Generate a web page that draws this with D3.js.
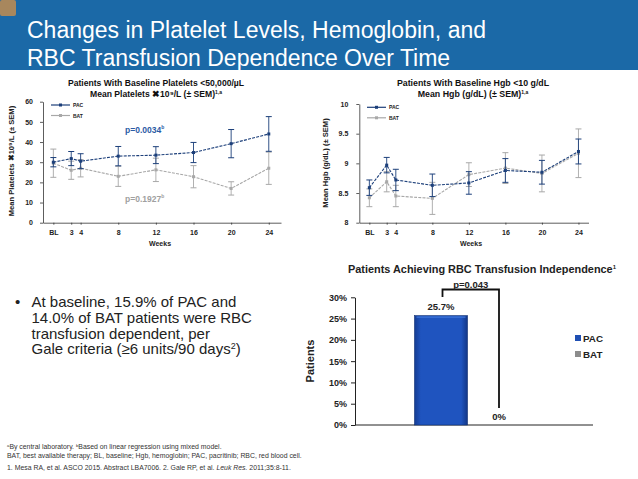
<!DOCTYPE html>
<html>
<head>
<meta charset="utf-8">
<script src="https://cdn.jsdelivr.net/npm/d3@7"></script>
<style>
  html, body { margin: 0; padding: 0; background: #fff; }
  svg { display: block; font-family: "Liberation Sans", Arial, sans-serif; }
</style>
</head>
<body>
<div id="vis"></div>
<script>
// ---- data ----
var weekLabels = ["BL", "3", "4", "8", "12", "16", "20", "24"];
var weekPos = [1.1, 3, 4, 8, 12, 16, 20, 24];

var pltPac = [30, 31.8, 30.5, 33, 33.5, 34.8, 39.2, 44];
var pltPacSem = [2.3, 3.5, 3.7, 4.8, 4.2, 5, 7, 8.6];
var pltBat = [29.5, 26, 27, 23, 26.2, 22.8, 17, 27];
var pltBatSem = [7, 4.5, 4.3, 5, 5.8, 5.5, 3.3, 8];
var pltTicks = [0, 10, 20, 30, 40, 50, 60];

var hgbPac = [8.59, 8.97, 8.72, 8.63, 8.67, 8.88, 8.85, 9.2];
var hgbPacSem = [0.13, 0.13, 0.18, 0.19, 0.19, 0.2, 0.2, 0.21];
var hgbBat = [8.42, 8.69, 8.45, 8.41, 8.81, 8.92, 8.83, 9.17];
var hgbBatSem = [0.15, 0.17, 0.18, 0.27, 0.2, 0.26, 0.31, 0.41];
var hgbTicks = [8, 8.5, 9, 9.5, 10];

var rbcGroups = ["PAC", "BAT"];
var rbcValues = [0.257, 0];
var rbcTicks = [0, 0.05, 0.1, 0.15, 0.2, 0.25, 0.3];

var PAC_COL = "#1c3f7a";
var BAT_COL = "#a8a8a8";

var svg = d3.select("#vis").append("svg")
    .attr("width", 638)
    .attr("height", 479);

var defs = svg.append("defs");
var grad = defs.append("linearGradient").attr("id", "barGrad")
    .attr("x1", "0%").attr("x2", "100%").attr("y1", "0%").attr("y2", "0%");
grad.append("stop").attr("offset", "0%").attr("stop-color", "#143c93");
grad.append("stop").attr("offset", "12%").attr("stop-color", "#1f54bf");
grad.append("stop").attr("offset", "88%").attr("stop-color", "#1f54bf");
grad.append("stop").attr("offset", "100%").attr("stop-color", "#123686");

// header band
svg.append("rect").attr("x", 0).attr("y", 0).attr("width", 638).attr("height", 70).attr("fill", "#1b69a7");
svg.append("rect").attr("x", 0).attr("y", 0).attr("width", 16).attr("height", 16).attr("rx", 2).attr("fill", "#a8875d");

var head = svg.append("text").attr("fill", "#fff").attr("font-size", "23px");
head.append("tspan").attr("x", 27).attr("y", 38).text("Changes in Platelet Levels, Hemoglobin, and");
head.append("tspan").attr("x", 27).attr("y", 66).text("RBC Transfusion Dependence Over Time");

// line chart with error bars
function lineChart(cfg) {
    var g = svg.append("g");
    var x = d3.scaleLinear().domain(cfg.xDomain).range(cfg.xRange);
    var y = d3.scaleLinear().domain(cfg.yDomain).range(cfg.yRange);

    var yAxis = g.append("g")
        .attr("transform", "translate(" + cfg.xRange[0] + ",0)")
        .call(d3.axisLeft(y).tickValues(cfg.yTicks).tickSize(3).tickSizeOuter(0).tickPadding(cfg.yPad)
            .tickFormat(function (d) { return d3.format("~g")(d); }));
    yAxis.selectAll("text").attr("font-size", "7px").attr("font-weight", "bold").attr("fill", "#222");

    var xAxis = g.append("g")
        .attr("transform", "translate(0," + cfg.yRange[0] + ")")
        .call(d3.axisBottom(x).tickValues(weekPos).tickSize(2).tickSizeOuter(0).tickPadding(5)
            .tickFormat(function (d, i) { return weekLabels[i]; }));
    xAxis.selectAll("text").attr("font-size", "7px").attr("font-weight", "bold").attr("fill", "#222");

    g.selectAll(".domain, .tick line").attr("stroke", "#333").attr("stroke-width", 0.8);

    // series, BAT underneath
    var series = [
        { vals: cfg.bat, sem: cfg.batSem, col: BAT_COL },
        { vals: cfg.pac, sem: cfg.pacSem, col: PAC_COL }
    ];
    series.forEach(function (s) {
        var pts = weekPos.map(function (w, i) { return [w, s.vals[i], s.sem[i]]; });
        var eb = g.append("g");
        pts.forEach(function (p) {
            var cx = x(p[0]);
            eb.append("line").attr("x1", cx).attr("x2", cx)
                .attr("y1", y(p[1] - p[2])).attr("y2", y(p[1] + p[2]))
                .attr("stroke", s.col).attr("stroke-width", 0.9);
            [p[1] - p[2], p[1] + p[2]].forEach(function (v) {
                eb.append("line").attr("x1", cx - 3).attr("x2", cx + 3)
                    .attr("y1", y(v)).attr("y2", y(v))
                    .attr("stroke", s.col).attr("stroke-width", 1);
            });
        });
        g.append("path")
            .datum(pts)
            .attr("fill", "none")
            .attr("stroke", s.col)
            .attr("stroke-width", 1.1)
            .attr("stroke-dasharray", "3,1.2")
            .attr("d", d3.line().x(function (d) { return x(d[0]); }).y(function (d) { return y(d[1]); }));
        g.selectAll(null).data(pts).enter().append("rect")
            .attr("x", function (d) { return x(d[0]) - 1.5; })
            .attr("y", function (d) { return y(d[1]) - 1.5; })
            .attr("width", 3).attr("height", 3)
            .attr("fill", s.col);
    });

    // legend
    [["PAC", PAC_COL], ["BAT", BAT_COL]].forEach(function (l, i) {
        var ly = cfg.legY + i * 10.5;
        g.append("line").attr("x1", cfg.legX).attr("x2", cfg.legX + 19)
            .attr("y1", ly).attr("y2", ly).attr("stroke", l[1]).attr("stroke-width", 1.2);
        g.append("rect").attr("x", cfg.legX + 8).attr("y", ly - 1.5).attr("width", 3).attr("height", 3).attr("fill", l[1]);
        g.append("text").attr("x", cfg.legX + 22).attr("y", ly + 2)
            .attr("font-size", "5px").attr("font-weight", "bold").attr("fill", "#222").text(l[0]);
    });

    // titles
    var cx = cfg.titleX;
    g.append("text").attr("x", cx).attr("y", 86).attr("text-anchor", "middle")
        .attr("font-size", cfg.titleSize).attr("font-weight", "bold").attr("fill", "#111").text(cfg.title1);
    var t2 = g.append("text").attr("x", cx).attr("y", 96.5).attr("text-anchor", "middle")
        .attr("font-size", cfg.titleSize).attr("font-weight", "bold").attr("fill", "#111");
    t2.append("tspan").text(cfg.title2);
    t2.append("tspan").attr("font-size", "5px").attr("dy", -3).text("1,a");

    g.append("text").attr("x", cfg.weeksX).attr("y", 246).attr("text-anchor", "middle")
        .attr("font-size", "7px").attr("font-weight", "bold").attr("fill", "#222").text("Weeks");

    g.append("text")
        .attr("transform", "translate(" + cfg.yLabX + "," + cfg.yLabY + ") rotate(-90)")
        .attr("text-anchor", "middle")
        .attr("font-size", "7.6px").attr("font-weight", "bold").attr("fill", "#222")
        .text(cfg.yLabel);

    return { x: x, y: y, g: g };
}

var c1 = lineChart({
    xDomain: [0, 25.3], xRange: [43, 281],
    yDomain: [0, 60], yRange: [222.7, 101.7], yTicks: pltTicks, yPad: 7,
    pac: pltPac, pacSem: pltPacSem, bat: pltBat, batSem: pltBatSem,
    legX: 51, legY: 105,
    titleX: 156, titleSize: "8.6px", title1: "Patients With Baseline Platelets <50,000/µL",
    title2: "Mean Platelets \u271610\u2079/L (\u00b1 SEM)",
    weeksX: 160, yLabX: 14, yLabY: 161,
    yLabel: "Mean Platelets \u271610\u2079/L (\u00b1 SEM)"
});

var p1 = c1.g.append("text").attr("x", 125).attr("y", 132.5)
    .attr("font-size", "8.5px").attr("font-weight", "bold").attr("fill", "#2b5ba5");
p1.append("tspan").text("p=0.0034");
p1.append("tspan").attr("font-size", "5px").attr("dy", -3.5).text("b");
var p2 = c1.g.append("text").attr("x", 125).attr("y", 201.5)
    .attr("font-size", "8.5px").attr("font-weight", "bold").attr("fill", "#a0a0a0");
p2.append("tspan").text("p=0.1927");
p2.append("tspan").attr("font-size", "5px").attr("dy", -3.5).text("b");

lineChart({
    xDomain: [0, 25.1], xRange: [359.3, 588.5],
    yDomain: [8, 10], yRange: [222.7, 104], yTicks: hgbTicks, yPad: 8,
    pac: hgbPac, pacSem: hgbPacSem, bat: hgbBat, batSem: hgbBatSem,
    legX: 367, legY: 107.3,
    titleX: 473, titleSize: "8.8px", title1: "Patients With Baseline Hgb <10 g/dL",
    title2: "Mean Hgb (g/dL) (\u00b1 SEM)",
    weeksX: 471, yLabX: 328, yLabY: 163,
    yLabel: "Mean Hgb (g/dL) (\u00b1 SEM)"
});

// ---- RBC transfusion independence bar chart ----
var bx = d3.scaleBand().domain(rbcGroups).range([412, 528]).paddingInner(0.086).paddingOuter(0.043);
var by = d3.scaleLinear().domain([0, 0.3]).range([425, 297.3]);
var bg = svg.append("g");

var byAxis = bg.append("g").attr("transform", "translate(355,0)")
    .call(d3.axisLeft(by).tickValues(rbcTicks).tickSize(4).tickSizeOuter(0).tickPadding(4).tickFormat(d3.format(".0%")));
byAxis.selectAll("text").attr("font-size", "9px").attr("font-weight", "bold").attr("fill", "#222");
bg.append("line").attr("x1", 355).attr("x2", 593).attr("y1", 425).attr("y2", 425).attr("stroke", "#222").attr("stroke-width", 1);
bg.selectAll(".domain, .tick line").attr("stroke", "#222");

bg.selectAll(null).data(rbcGroups).enter().append("rect")
    .attr("x", function (d) { return bx(d); })
    .attr("y", function (d, i) { return by(rbcValues[i]); })
    .attr("width", bx.bandwidth())
    .attr("height", function (d, i) { return by(0) - by(rbcValues[i]); })
    .attr("fill", function (d, i) { return i === 0 ? "url(#barGrad)" : "#8c8c8c"; })
    .attr("stroke", "#0f2f72").attr("stroke-width", 0.6);
bg.append("line")
    .attr("x1", bx("PAC") + 2).attr("x2", bx("PAC") + bx.bandwidth() - 2)
    .attr("y1", by(rbcValues[0]) + 1.5).attr("y2", by(rbcValues[0]) + 1.5)
    .attr("stroke", "#3f74d8").attr("stroke-width", 1.2);

bg.selectAll(null).data(rbcGroups).enter().append("text")
    .attr("x", function (d) { return bx(d) + bx.bandwidth() / 2; })
    .attr("y", function (d, i) { return i === 0 ? by(rbcValues[i]) - 6 : by(rbcValues[i]) - 5; })
    .attr("text-anchor", "middle")
    .attr("font-size", "9.5px").attr("font-weight", "bold").attr("fill", "#222")
    .text(function (d, i) { return d3.format(".1~%")(rbcValues[i]); });

// significance bracket
var bl = bx("PAC") + bx.bandwidth() / 2 + 1.5, br = bx("BAT") + bx.bandwidth() / 2;
bg.append("path")
    .attr("d", "M" + bl + "," + 297 + "V289.5H" + br + "V408")
    .attr("fill", "none").attr("stroke", "#111").attr("stroke-width", 1.8);
bg.append("text").attr("x", (bl + br) / 2).attr("y", 287.5).attr("text-anchor", "middle")
    .attr("font-size", "9.5px").attr("font-weight", "bold").attr("fill", "#222").text("p=0.043");

var bt = bg.append("text").attr("x", 482).attr("y", 272.5).attr("text-anchor", "middle")
    .attr("font-size", "10.9px").attr("font-weight", "bold").attr("fill", "#222");
bt.append("tspan").text("Patients Achieving RBC Transfusion Independence");
bt.append("tspan").attr("font-size", "6px").attr("dy", -4).text("1");

bg.append("text").attr("transform", "translate(314,361) rotate(-90)").attr("text-anchor", "middle")
    .attr("font-size", "11px").attr("font-weight", "bold").attr("fill", "#222").text("Patients");

[["PAC", "#1f4fb3"], ["BAT", "#8c8c8c"]].forEach(function (l, i) {
    var ly = 338 + i * 16;
    bg.append("rect").attr("x", 575).attr("y", ly - 3).attr("width", 6).attr("height", 6).attr("fill", l[1]);
    bg.append("text").attr("x", 583).attr("y", ly + 3.6)
        .attr("font-size", "9.8px").attr("font-weight", "bold").attr("fill", "#222").text(l[0]);
});

// ---- bullet text ----
var bulletLines = [
    "At baseline, 15.9% of PAC and",
    "14.0% of BAT patients were RBC",
    "transfusion dependent, per",
    "Gale criteria (\u22656 units/90 days"
];
svg.append("text").attr("x", 15).attr("y", 307).attr("font-size", "15px").attr("fill", "#222").text("\u2022");
var bt2 = svg.append("text").attr("font-size", "15px").attr("fill", "#222");
bulletLines.forEach(function (t, i) {
    bt2.append("tspan").attr("x", 31.5).attr("y", 307.3 + i * 15.6).text(t);
    if (i === 3) {
        bt2.append("tspan").attr("font-size", "9px").attr("dy", -5.5).text("2");
        bt2.append("tspan").attr("dy", 5.5).text(")");
    }
});

// ---- footnotes ----
var fn = svg.append("g").attr("font-size", "6.9px").attr("fill", "#333");
var f1 = fn.append("text").attr("x", 7).attr("y", 449);
f1.append("tspan").attr("font-size", "4.3px").attr("dy", -2.3).text("a");
f1.append("tspan").attr("dy", 2.3).text("By central laboratory. ");
f1.append("tspan").attr("font-size", "4.3px").attr("dy", -2.3).text("b");
f1.append("tspan").attr("dy", 2.3).text("Based on linear regression using mixed model.");
fn.append("text").attr("x", 7).attr("y", 457.5)
    .text("BAT, best available therapy; BL, baseline; Hgb, hemoglobin; PAC, pacritinib; RBC, red blood cell.");
var f3 = fn.append("text").attr("x", 7).attr("y", 470);
f3.append("tspan").text("1. Mesa RA, et al. ASCO 2015. Abstract LBA7006. 2. Gale RP, et al. ");
f3.append("tspan").attr("font-style", "italic").text("Leuk Res.");
f3.append("tspan").text(" 2011;35:8-11.");
</script>
</body>
</html>
